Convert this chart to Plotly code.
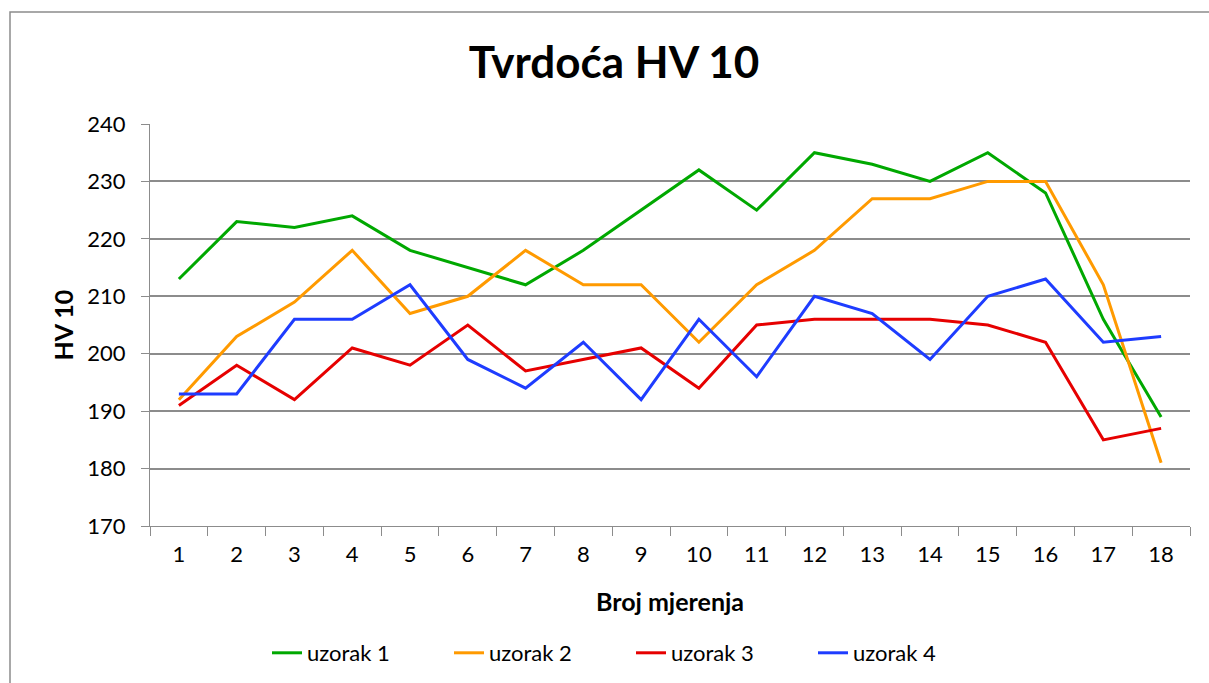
import plotly.graph_objects as go

# Measurement numbers and hardness readings (HV 10) for each sample
mjerenja = [str(i) for i in range(1, 19)]
uzorak_1 = [213, 223, 222, 224, 218, 215, 212, 218, 225, 232, 225, 235, 233, 230, 235, 228, 206, 189]
uzorak_2 = [192, 203, 209, 218, 207, 210, 218, 212, 212, 202, 212, 218, 227, 227, 230, 230, 212, 181]
uzorak_3 = [191, 198, 192, 201, 198, 205, 197, 199, 201, 194, 205, 206, 206, 206, 205, 202, 185, 187]
uzorak_4 = [193, 193, 206, 206, 212, 199, 194, 202, 192, 206, 196, 210, 207, 199, 210, 213, 202, 203]

series = [
    ("uzorak 1", uzorak_1, "#00A800"),
    ("uzorak 2", uzorak_2, "#FF9A00"),
    ("uzorak 3", uzorak_3, "#E60000"),
    ("uzorak 4", uzorak_4, "#1E3CFF"),
]

W, H = 1209, 683
L, R, T, B = 150, 19, 124, 157
pw, ph = W - L - R, H - T - B

FONT = "Lato, Carlito, Calibri, sans-serif"
AXIS_GREY = "#8C8C8C"

fig = go.Figure()
for name, vals, col in series:
    fig.add_trace(go.Scatter(
        x=mjerenja, y=vals, name=name, mode="lines",
        line=dict(color=col, width=3),
    ))

# outer chart frame
fig.add_shape(
    type="rect", xref="paper", yref="paper",
    x0=(10 - L) / pw, x1=(W + 5 - L) / pw,
    y0=-(H + 5 - T - ph) / ph, y1=1 + (T - 12) / ph,
    line=dict(color=AXIS_GREY, width=1.5), fillcolor="rgba(0,0,0,0)", layer="below",
)

fig.update_layout(
    width=W, height=H,
    margin=dict(l=L, r=R, t=T, b=B, autoexpand=False),
    paper_bgcolor="white", plot_bgcolor="white",
    font=dict(family=FONT, size=22, color="black"),
    title=dict(
        text="<b>Tvrdoća HV 10</b>", x=(614 - L) / pw, xref="paper", xanchor="center",
        y=1 - 63 / H, yanchor="middle",
        font=dict(family=FONT, size=44, color="black"),
    ),
    xaxis=dict(
        type="category", range=[-0.5, len(mjerenja) - 0.5], tickson="boundaries",
        ticks="outside", ticklen=9, tickcolor=AXIS_GREY, tickwidth=1.3,
        showline=True, linecolor=AXIS_GREY, linewidth=1.3,
        showgrid=False, tickfont=dict(size=22), ticklabelstandoff=8,
        title=dict(text="<b>Broj mjerenja</b>", font=dict(size=25), standoff=27),
    ),
    yaxis=dict(
        range=[170, 240], dtick=10,
        ticks="outside", ticklen=8, tickcolor=AXIS_GREY, tickwidth=1.3,
        showline=True, linecolor=AXIS_GREY, linewidth=1.3,
        showgrid=True, gridcolor=AXIS_GREY, gridwidth=1.5,
        zeroline=False, tickfont=dict(size=22), ticklabelstandoff=11,
        title=dict(text="<b>HV 10</b>", font=dict(size=25), standoff=6),
    ),
    legend=dict(
        orientation="h", x=(631 - L) / pw, xanchor="center",
        y=-(653 - T - ph) / ph, yanchor="middle",
        font=dict(size=22), entrywidth=137, entrywidthmode="pixels",
    ),
    showlegend=True,
)

fig.write_html("out.html")
